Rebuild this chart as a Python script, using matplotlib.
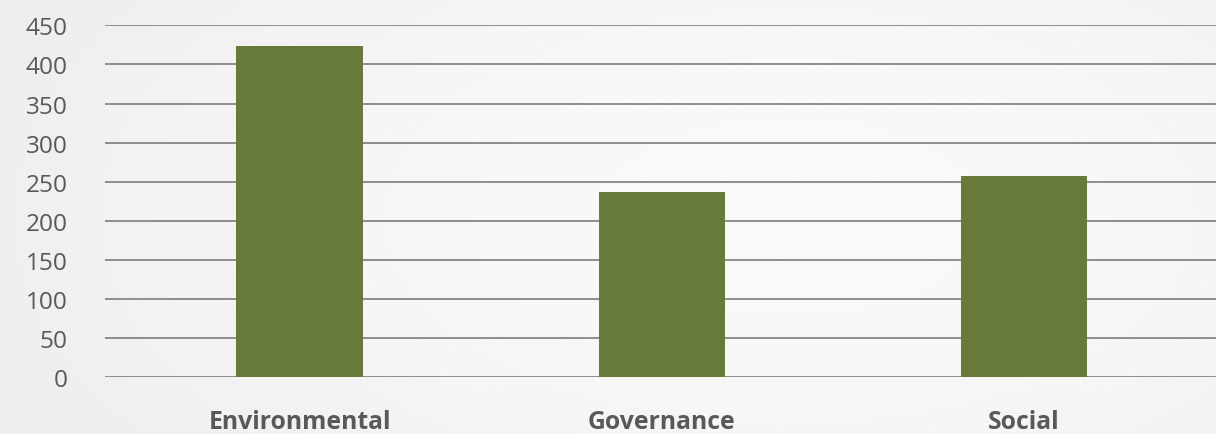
import numpy as np
import matplotlib
matplotlib.use("Agg")
import matplotlib.pyplot as plt

categories = ["Environmental", "Governance", "Social"]
values = [424, 237, 257]
y_ticks = [0, 50, 100, 150, 200, 250, 300, 350, 400, 450]

plt.rcParams['font.family'] = ['Open Sans', 'DejaVu Sans']

W, H = 1216, 435
fig = plt.figure(figsize=(W / 100, H / 100), dpi=100)

# soft paper-like background, slightly darker toward the left
bg = fig.add_axes([0, 0, 1, 1], zorder=-10)
yy, xx = np.mgrid[0:1:200j, 0:1:560j]
shade = 0.975 - 0.045 * np.clip(((xx - 0.65) / 0.7) ** 2 + ((yy - 0.5) / 1.0) ** 2, 0, 1)
bg.imshow(shade, cmap="gray", vmin=0, vmax=1, aspect="auto", extent=[0, 1, 0, 1])
bg.set_axis_off()

ax = fig.add_axes([105 / W, 56.7 / H, 1 - 105 / W, 352 / H])
ax.patch.set_alpha(0)
x = np.arange(len(categories))
ax.bar(x, values, width=0.35, color="#677a39", zorder=3)

ax.set_ylim(0, 450)
ax.set_yticks(y_ticks)
ax.set_xlim(-0.538, 2.53)
ax.set_xticks(x)
ax.set_xticklabels(categories, fontweight="bold")
ax.yaxis.grid(True, color="#858585", linewidth=1.3, zorder=0)
ax.set_axisbelow(True)
for s in ax.spines.values():
    s.set_visible(False)
ax.tick_params(axis="y", length=0, pad=27, labelsize=17.6, labelcolor="#595959")
ax.tick_params(axis="x", length=0, pad=23, labelsize=17.8, labelcolor="#595959")

fig.savefig("out.png", dpi=100)
